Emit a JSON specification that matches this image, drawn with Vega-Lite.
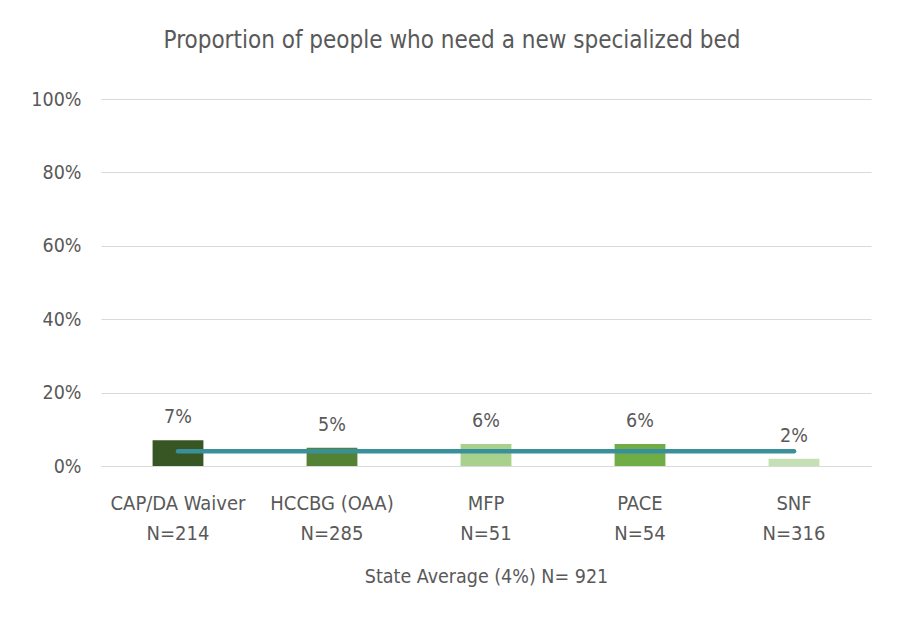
{
  "$schema": "https://vega.github.io/schema/vega-lite/v6.json",
  "width": 770,
  "height": 367,
  "autosize": {"type": "none"},
  "padding": {"left": 101, "top": 99, "right": 32, "bottom": 163},
  "background": "white",
  "config": {
    "font": "DejaVu Sans Condensed, Open Sans, sans-serif",
    "view": {"stroke": null}
  },
  "title": {
    "text": "Proportion of people who need a new specialized bed",
    "fontSize": 24,
    "fontWeight": "normal",
    "color": "#595959",
    "offset": 36,
    "dx": -34,
    "anchor": "middle"
  },
  "data": {
    "values": [
      {"program": "CAP/DA Waiver|N=214", "pct": 0.07, "avg": 0.04, "color": "#375623"},
      {"program": "HCCBG (OAA)|N=285", "pct": 0.05, "avg": 0.04, "color": "#548235"},
      {"program": "MFP|N=51", "pct": 0.06, "avg": 0.04, "color": "#a9d18e"},
      {"program": "PACE|N=54", "pct": 0.06, "avg": 0.04, "color": "#70ad47"},
      {"program": "SNF|N=316", "pct": 0.02, "avg": 0.04, "color": "#c5e0b4"}
    ]
  },
  "encoding": {
    "x": {
      "field": "program",
      "type": "nominal",
      "sort": null,
      "scale": {"paddingInner": 0.67, "paddingOuter": 0.335},
      "axis": {
        "title": "State Average (4%) N= 921",
        "titleFontSize": 19.5,
        "titleFontWeight": "normal",
        "titleColor": "#595959",
        "titlePadding": 24,
        "labelExpr": "split(datum.value, '|')",
        "labelAngle": 0,
        "labelFontSize": 20,
        "labelColor": "#595959",
        "labelLineHeight": 30,
        "labelPadding": 27,
        "ticks": false,
        "domainColor": "#d9d9d9",
        "domainWidth": 1
      }
    }
  },
  "layer": [
    {
      "mark": {"type": "bar"},
      "encoding": {
        "y": {
          "field": "pct",
          "type": "quantitative",
          "scale": {"domain": [0, 1]},
          "axis": {
            "title": null,
            "format": ".0%",
            "values": [0, 0.2, 0.4, 0.6, 0.8, 1],
            "labelFontSize": 19.5,
            "labelColor": "#595959",
            "labelPadding": 20,
            "ticks": false,
            "domain": false,
            "gridColor": "#d9d9d9",
            "gridWidth": 1
          }
        },
        "color": {"field": "color", "type": "nominal", "scale": null, "legend": null}
      }
    },
    {
      "mark": {"type": "text", "baseline": "alphabetic", "dy": -17, "fontSize": 19.5, "color": "#595959"},
      "encoding": {
        "y": {"field": "pct", "type": "quantitative"},
        "text": {"field": "pct", "type": "quantitative", "format": ".0%"}
      }
    },
    {
      "mark": {"type": "line", "color": "#3a9099", "strokeWidth": 4.5, "strokeCap": "round"},
      "encoding": {
        "y": {"field": "avg", "type": "quantitative"}
      }
    }
  ]
}
